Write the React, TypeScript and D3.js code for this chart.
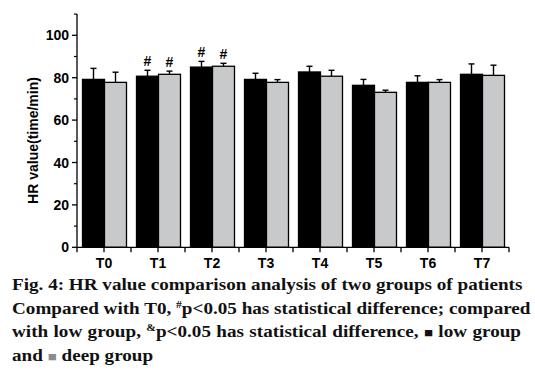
import { useEffect, useRef } from "react";
import * as d3 from "d3";

const categories = ["T0", "T1", "T2", "T3", "T4", "T5", "T6", "T7"];
const groups = ["low", "deep"];
const lowMeans = [79.2, 80.7, 85.0, 79.2, 82.7, 76.4, 77.8, 81.6];
const lowSD = [5.2, 2.8, 2.7, 2.9, 2.7, 2.8, 3.1, 4.9];
const deepMeans = [77.8, 81.6, 85.4, 77.8, 80.7, 73.1, 77.8, 81.1];
const deepSD = [4.8, 1.5, 1.4, 1.3, 2.8, 1.0, 1.3, 4.8];
const lowMarks = ["", "#", "#", "", "", "", "", ""];
const deepMarks = ["", "#", "#", "", "", "", "", ""];
const yMajorTicks = [0, 20, 40, 60, 80, 100];
const yMinorTicks = [10, 30, 50, 70, 90, 110];

const W = 535;
const H = 370;
const AXIS_X = 77;
const AXIS_RIGHT = 509;
const BASE_Y = 247.3;
const TOP_Y = 14.1;
const SANS = "'Liberation Sans', Arial, sans-serif";
const SERIF = "'Liberation Serif', 'Times New Roman', serif";
const GRAY = "#c8c9cb";
const CAP_LEFT = 12;
const CAP_RIGHT = 521;
const CAP_SX = 1.16; // caption glyphs are stretched horizontally in the source

export default function App() {
  const capRef = useRef<SVGGElement>(null);

  const y = d3.scaleLinear().domain([0, 110]).range([BASE_Y, TOP_Y]);
  const x = d3.scaleBand().domain(categories).range([AXIS_X, AXIS_RIGHT]).padding(0);
  const xg = d3.scaleBand().domain(groups).range([5.5, 49.5]).padding(0);
  const bw = xg.bandwidth();

  const series = [
    { key: "low", means: lowMeans, sd: lowSD, marks: lowMarks, fill: "#000" },
    { key: "deep", means: deepMeans, sd: deepSD, marks: deepMarks, fill: GRAY },
  ];

  // justify the first three caption lines by stretching word spacing
  useEffect(() => {
    const g = capRef.current;
    if (!g) return;
    const target = (CAP_RIGHT - CAP_LEFT) / CAP_SX;
    g.querySelectorAll<SVGTextElement>("text.justify").forEach((el) => {
      el.setAttribute("word-spacing", "0");
      const len = el.getComputedTextLength();
      const spaces = (el.textContent || "").split(" ").length - 1;
      if (spaces > 0) {
        const ws = Math.max(0, (target - len) / spaces);
        el.setAttribute("word-spacing", String(ws));
      }
    });
  }, []);

  const boundaries = categories.map((c) => x(c)!).concat([AXIS_RIGHT]);

  return (
    <svg
      width={W}
      height={H}
      viewBox={`0 0 ${W} ${H}`}
      style={{ position: "absolute", left: 0, top: 0, background: "#fff" }}
    >
      {/* bars */}
      {series.map((s) =>
        categories.map((c, i) => {
          const x0 = x(c)! + xg(s.key)!;
          const cx = x0 + bw / 2;
          const top = y(s.means[i]);
          const errTop = y(s.means[i] + s.sd[i]);
          return (
            <g key={s.key + c}>
              <line x1={cx} x2={cx} y1={top} y2={errTop} stroke="#000" strokeWidth={1.4} />
              <line x1={cx - 3} x2={cx + 3} y1={errTop} y2={errTop} stroke="#000" strokeWidth={1.4} />
              <rect
                x={x0}
                y={top}
                width={bw}
                height={BASE_Y - top}
                fill={s.fill}
                stroke="#000"
                strokeWidth={1.3}
              />
              {s.marks[i] && (
                <text
                  x={cx}
                  y={errTop - 4}
                  textAnchor="middle"
                  fontFamily={SANS}
                  fontWeight="bold"
                  fontSize={14}
                  fill="#000"
                >
                  {s.marks[i]}
                </text>
              )}
            </g>
          );
        })
      )}

      {/* y axis */}
      <line x1={AXIS_X} x2={AXIS_X} y1={TOP_Y} y2={BASE_Y} stroke="#000" strokeWidth={1.3} />
      {yMajorTicks.map((t) => (
        <g key={"ymaj" + t}>
          <line x1={AXIS_X - 5} x2={AXIS_X} y1={y(t)} y2={y(t)} stroke="#000" strokeWidth={1.3} />
          <text
            x={AXIS_X - 8}
            y={y(t)}
            dy="0.36em"
            textAnchor="end"
            fontFamily={SANS}
            fontWeight="bold"
            fontSize={14}
            fill="#000"
          >
            {t}
          </text>
        </g>
      ))}
      {yMinorTicks.map((t) => (
        <line key={"ymin" + t} x1={AXIS_X - 3} x2={AXIS_X} y1={y(t)} y2={y(t)} stroke="#000" strokeWidth={1.2} />
      ))}
      <text
        transform={`translate(33.5,140.5) rotate(-90)`}
        textAnchor="middle"
        dy="0.35em"
        fontFamily={SANS}
        fontWeight="bold"
        fontSize={14}
        fill="#000"
      >
        HR value(time/min)
      </text>

      {/* x axis */}
      <line x1={AXIS_X} x2={AXIS_RIGHT} y1={BASE_Y} y2={BASE_Y} stroke="#000" strokeWidth={1.3} />
      {boundaries.map((b, i) => (
        <line key={"xb" + i} x1={b} x2={b} y1={BASE_Y} y2={BASE_Y + 5} stroke="#000" strokeWidth={1.3} />
      ))}
      {categories.map((c) => {
        const cx = x(c)! + x.bandwidth() / 2;
        return (
          <g key={"xt" + c}>
            <line x1={cx} x2={cx} y1={BASE_Y} y2={BASE_Y + 5} stroke="#000" strokeWidth={1.3} />
            <text
              x={cx}
              y={268}
              textAnchor="middle"
              fontFamily={SANS}
              fontWeight="bold"
              fontSize={14}
              fill="#000"
            >
              {c}
            </text>
          </g>
        );
      })}

      {/* caption */}
      <g
        ref={capRef}
        transform={`translate(${CAP_LEFT},0) scale(${CAP_SX},1)`}
        fontFamily={SERIF}
        fontWeight="bold"
        fontSize={16.5}
        fill="#111"
      >
        <text className="justify" x={0} y={290.5}>
          Fig. 4: HR value comparison analysis of two groups of patients
        </text>
        <text className="justify" x={0} y={314}>
          Compared with T0,{" "}
          <tspan fontSize={10} dy={-6}>#</tspan>
          <tspan dy={6}>p&lt;0.05 has statistical difference; compared</tspan>
        </text>
        <text className="justify" x={0} y={337.5}>
          with low group,{" "}
          <tspan fontSize={10} dy={-6}>&amp;</tspan>
          <tspan dy={6}>p&lt;0.05 has statistical difference, </tspan>
          <tspan fontSize={13}>■</tspan>
          <tspan> low group</tspan>
        </text>
        <text x={0} y={361}>
          and <tspan fontSize={13} fill="#8a8a8a">■</tspan> deep group
        </text>
      </g>
    </svg>
  );
}
